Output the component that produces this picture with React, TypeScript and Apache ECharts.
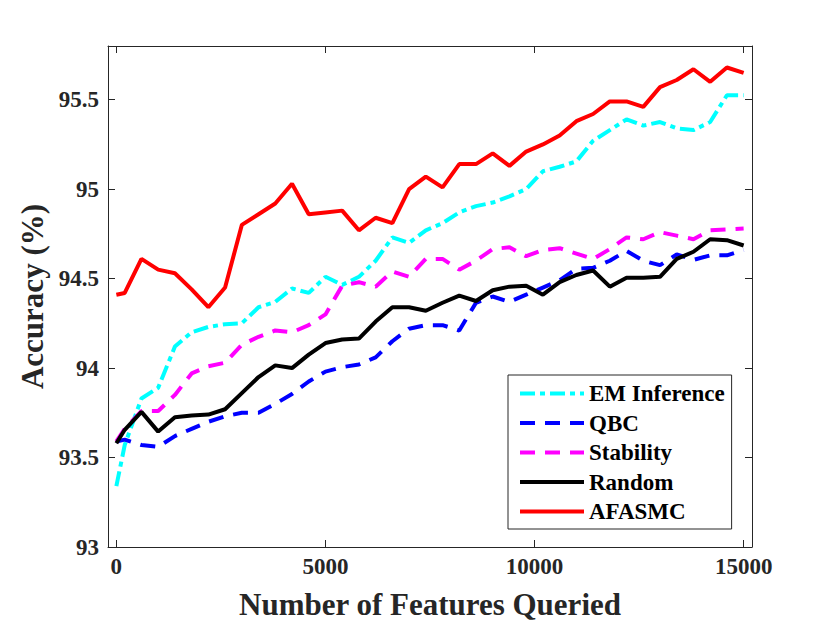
import React, { useEffect, useRef } from "react";
import * as echarts from "echarts";

const FONT = '"Liberation Serif", "Times New Roman", Times, serif';
const AXIS_COLOR = "#262626";

const xs = [
  0, 200, 600, 1000, 1400, 1800, 2200, 2600, 3000, 3400, 3800, 4200, 4600, 5000,
  5400, 5800, 6200, 6600, 7000, 7400, 7800, 8200, 8600, 9000, 9400, 9800, 10200,
  10600, 11000, 11400, 11800, 12200, 12600, 13000, 13400, 13800, 14200, 14600, 15000,
];

const emInference = [
  93.34, 93.57, 93.83, 93.89, 94.12, 94.2, 94.23, 94.245, 94.25, 94.34, 94.37, 94.445,
  94.42, 94.51, 94.465, 94.51, 94.6, 94.73, 94.7, 94.77, 94.81, 94.87, 94.905, 94.925,
  94.96, 95.0, 95.1, 95.125, 95.155, 95.27, 95.33, 95.39, 95.355, 95.375, 95.34, 95.33,
  95.375, 95.525, 95.525,
];

const qbc = [
  93.59, 93.6, 93.57, 93.56, 93.62, 93.66, 93.7, 93.73, 93.75, 93.75, 93.8, 93.855,
  93.925, 93.98, 94.005, 94.02, 94.06, 94.15, 94.22, 94.24, 94.24, 94.21, 94.365, 94.4,
  94.37, 94.41, 94.45, 94.49, 94.555, 94.56, 94.6, 94.655, 94.6, 94.575, 94.635, 94.605,
  94.63, 94.63, 94.66,
];

const stability = [
  93.59, 93.66, 93.76, 93.76, 93.85, 93.97, 94.01, 94.03, 94.13, 94.175, 94.21, 94.2,
  94.24, 94.3, 94.46, 94.48, 94.455, 94.54, 94.51, 94.61, 94.61, 94.55, 94.6, 94.665,
  94.675, 94.625, 94.66, 94.67, 94.64, 94.61, 94.665, 94.73, 94.72, 94.76, 94.74, 94.72,
  94.77, 94.775, 94.78,
];

const random = [
  93.58, 93.655, 93.755, 93.645, 93.725, 93.735, 93.74, 93.77, 93.86, 93.95, 94.015, 94.0,
  94.075, 94.14, 94.16, 94.165, 94.26, 94.34, 94.34, 94.32, 94.365, 94.405, 94.375, 94.435,
  94.455, 94.46, 94.41, 94.48, 94.52, 94.545, 94.455, 94.505, 94.505, 94.51, 94.61, 94.65,
  94.72, 94.715, 94.685,
];

const afasmc = [
  94.41, 94.42, 94.61, 94.55, 94.53, 94.44, 94.34, 94.45, 94.8, 94.86, 94.92, 95.03,
  94.86, 94.87, 94.88, 94.77, 94.84, 94.81, 95.0, 95.07, 95.01, 95.14, 95.14, 95.2,
  95.13, 95.21, 95.25, 95.3, 95.38, 95.42, 95.49, 95.49, 95.46, 95.57, 95.61, 95.67,
  95.6, 95.68, 95.65,
];

const xTicks = [0, 5000, 10000, 15000];
const yTicks = [93, 93.5, 94, 94.5, 95, 95.5];

const seriesDefs = [
  { name: "EM Inference", values: emInference, color: "#00FFFF", dash: [15, 5, 5, 5] as any },
  { name: "QBC", values: qbc, color: "#0000FF", dash: [15, 10] as any },
  { name: "Stability", values: stability, color: "#FF00FF", dash: [15, 10] as any },
  { name: "Random", values: random, color: "#000000", dash: "solid" as any },
  { name: "AFASMC", values: afasmc, color: "#FF0000", dash: "solid" as any },
];

export default function App() {
  const ref = useRef<HTMLDivElement>(null);

  useEffect(() => {
    if (!ref.current) return;
    const chart = echarts.init(ref.current, undefined, { renderer: "svg" });

    const lineStyle = { color: AXIS_COLOR, width: 1 };
    const labelStyle = {
      fontFamily: FONT,
      fontWeight: "bold" as const,
      fontSize: 23,
      color: AXIS_COLOR,
    };
    const nameStyle = {
      fontFamily: FONT,
      fontWeight: "bold" as const,
      fontSize: 31,
      color: AXIS_COLOR,
    };

    const option: any = {
      animation: false,
      backgroundColor: "#ffffff",
      grid: { left: 108, top: 46, width: 644, height: 501 },
      xAxis: [
        {
          type: "value",
          position: "bottom",
          min: -200,
          max: 15200,
          axisLine: { show: true, onZero: false, lineStyle },
          axisTick: { show: true, inside: true, length: 7, customValues: xTicks, lineStyle },
          axisLabel: {
            show: true,
            customValues: xTicks,
            margin: 8,
            formatter: (v: number) => String(v),
            ...labelStyle,
          },
          splitLine: { show: false },
          name: "Number of Features Queried",
          nameLocation: "middle",
          nameGap: 42,
          nameTextStyle: nameStyle,
        },
        {
          type: "value",
          position: "top",
          min: -200,
          max: 15200,
          axisLine: { show: true, onZero: false, lineStyle },
          axisTick: { show: true, inside: true, length: 7, customValues: xTicks, lineStyle },
          axisLabel: { show: false },
          splitLine: { show: false },
        },
      ],
      yAxis: [
        {
          type: "value",
          position: "left",
          min: 93,
          max: 95.8,
          axisLine: { show: true, onZero: false, lineStyle },
          axisTick: { show: true, inside: true, length: 7, customValues: yTicks, lineStyle },
          axisLabel: {
            show: true,
            customValues: yTicks,
            margin: 9,
            formatter: (v: number) => String(v),
            ...labelStyle,
          },
          splitLine: { show: false },
          name: "Accuracy (%)",
          nameLocation: "middle",
          nameGap: 58,
          nameTextStyle: nameStyle,
        },
        {
          type: "value",
          position: "right",
          min: 93,
          max: 95.8,
          axisLine: { show: true, onZero: false, lineStyle },
          axisTick: { show: true, inside: true, length: 7, customValues: yTicks, lineStyle },
          axisLabel: { show: false },
          splitLine: { show: false },
        },
      ],
      legend: {
        show: true,
        orient: "vertical",
        left: 508,
        top: 375,
        padding: [7, 7, 6, 10],
        itemWidth: 64,
        itemHeight: 12,
        itemGap: 6.5,
        backgroundColor: "#ffffff",
        borderColor: AXIS_COLOR,
        borderWidth: 1,
        borderRadius: 0,
        selectedMode: false,
        itemStyle: { opacity: 0 },
        lineStyle: { width: 4 },
        data: seriesDefs.map((s) => s.name),
        textStyle: {
          fontFamily: FONT,
          fontWeight: "bold",
          fontSize: 23,
          lineHeight: 23,
          color: "#000000",
        },
      },
      series: seriesDefs.map((s, i) => ({
        name: s.name,
        type: "line",
        xAxisIndex: 0,
        yAxisIndex: 0,
        symbol: "none",
        showSymbol: false,
        z: 2 + i,
        lineStyle: { color: s.color, width: 4, type: s.dash },
        itemStyle: { color: s.color },
        data: xs.map((x, j) => [x, s.values[j]]),
      })),
    };

    chart.setOption(option);
    return () => chart.dispose();
  }, []);

  return (
    <div
      ref={ref}
      style={{ position: "absolute", left: 0, top: 0, width: 830, height: 632 }}
    />
  );
}
